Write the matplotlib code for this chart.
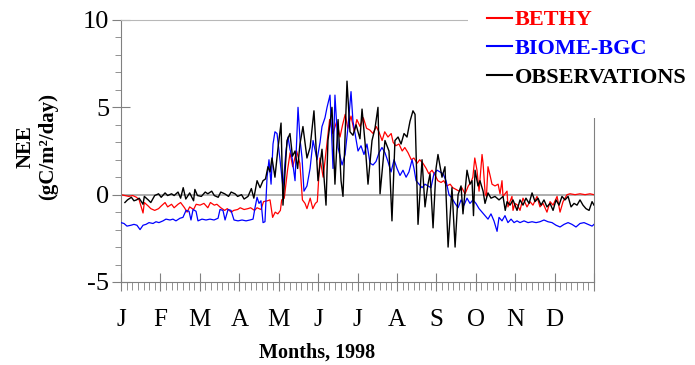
"""
NEE 1998: BETHY and BIOME-BGC model output against tower observations.
Values read by eye from the reference figure (day of year, gC/m2/day).
"""

import numpy as np
import matplotlib.pyplot as plt
from matplotlib.patches import Rectangle

plt.rcParams["font.family"] = ["Liberation Serif", "DejaVu Serif"]
plt.rcParams["axes.unicode_minus"] = False

month_labels = ["J", "F", "M", "A", "M", "J", "J", "A", "S", "O", "N", "D"]

bethy_day = [0, 3, 6, 9, 12, 14, 17, 18, 21, 23, 26, 29, 31, 34, 36, 39, 41, 44, 46, 49,
             51, 53, 56, 58, 61, 64, 67, 69, 72, 74, 77, 80, 82, 85, 87, 90, 92, 95, 98, 100,
             103, 105, 108, 110, 113, 115, 117, 119, 121, 123, 124, 126, 128.5, 130.5, 132.5,
             135.5, 138, 140, 142, 143.5, 146, 148, 150, 151.5, 153.5, 156, 159, 161, 163.5,
             166.5, 169, 171, 173, 175, 177.5, 180, 182, 184.5, 187, 189.5, 192, 194.5, 197,
             199, 201.5, 203.5, 206, 208.5, 210, 212, 214.5, 217, 219, 221.5, 224, 226, 228.5,
             230.5, 233, 235.5, 237.5, 240, 242.5, 244.5, 247, 249, 251.5, 254, 256, 258.5,
             261, 263, 265.5, 268, 270, 271.5, 273, 274.7, 276.3, 278.6, 279.4, 281, 282,
             283.2, 284.8, 286.3, 288.6, 291, 292.5, 294, 294.8, 297.9, 298.6, 301.7, 302.5,
             304, 306, 307.9, 310.2, 313.3, 315.6, 317.9, 321, 323.3, 325.7, 328.7, 331.1,
             333.4, 336.5, 338.8, 341.1, 344.2, 346.5, 350.4, 354.2, 358.1, 361.9, 365]
bethy_nee = [0.0, -0.05, -0.1, -0.05, -0.15, -0.3, -1.05, -0.45, -0.65, -0.8, -0.9, -0.8,
             -0.65, -0.45, -0.7, -0.55, -0.75, -0.55, -0.45, -0.75, -1.0, -0.7, -0.85, -0.55,
             -0.6, -0.5, -0.75, -0.45, -0.6, -0.55, -0.75, -0.9, -0.8, -1.0, -0.9, -0.85,
             -0.75, -0.85, -0.8, -0.75, -0.9, -0.75, -0.85, -0.4, -0.35, -0.3, -1.3, -1.0,
             -1.1, -0.9, -0.3, -0.2, 1.4, 2.4, 1.6, 2.5, 1.8, -0.3, -0.5, -0.8, -0.2, -0.8,
             -0.5, -0.4, 2.1, 1.0, 3.0, 4.3, 3.5, 4.2, 3.3, 4.0, 4.6, 3.8, 4.5, 3.6, 4.3, 3.9,
             4.4, 3.8, 3.7, 3.5, 3.9, 3.6, 3.1, 3.6, 3.3, 3.5, 3.0, 2.8, 2.9, 2.5, 2.7, 2.4,
             2.0, 2.1, 1.8, 2.0, 1.8, 1.5, 1.2, 1.4, 1.1, 0.8, 0.7, 0.8, 0.5, 0.6, 0.4, 0.3,
             0.2, 0.4, 0.05, 0.5, 0.7, 1.0, 2.1, 1.4, 0.2, 2.3, 1.8, 0.05, -0.1, 1.6, 1.1,
             0.6, 0.5, 0.6, 0.05, 0.8, -0.1, 0.2, -0.7, -0.1, -0.9, -0.5, -0.6, -0.9, -0.2,
             -0.7, -0.4, -0.6, -0.1, -0.7, -0.5, -1.0, -0.4, -0.6, -0.1, -1.0, -0.4, 0.0,
             0.05, 0.0, 0.05, 0.0, 0.05, 0.0]

biome_day = [0, 2.3, 4.6, 7.7, 10, 12.3, 14.7, 17, 19.3, 21.6, 24.7, 27, 29.3, 32.4, 34.7,
             37.8, 40.1, 42.4, 45.5, 47.8, 50.2, 52.5, 54, 55.6, 57.9, 59.4, 62.5, 65.6, 68.7,
             71.8, 74.9, 76.4, 78.7, 80.3, 82.6, 84.9, 87.2, 90.3, 93.4, 96.5, 99.5, 101.9,
             103.4, 105, 106.5, 108, 109.6, 111.1, 112.7, 114.2, 115.8, 117.3, 118.8, 120.4,
             122.7, 125, 127.3, 128.9, 130.4, 132, 134.3, 136.6, 138.1, 139.7, 141.2, 143.5,
             145.9, 148.2, 151.3, 153.6, 155.1, 157.4, 159, 161.3, 163.6, 165.1, 167.5, 170.6,
             172.9, 175.2, 177.5, 179, 180.6, 182.9, 185.2, 187.5, 189.8, 192.2, 194.5, 196.8,
             199.1, 201.4, 203.7, 206, 208.4, 210.7, 213, 215.3, 217.6, 220, 222.2, 224.6,
             226.1, 227.7, 230, 232.3, 234.6, 236.9, 239.2, 241.5, 243.9, 246.2, 248.5, 250.8,
             253.1, 255.4, 257.8, 260.1, 262.4, 264.7, 267, 269.3, 271.6, 273.9, 276.3, 278.6,
             280.9, 283.2, 285.5, 287.8, 290.2, 291.7, 294, 296.3, 298.6, 301, 303.3, 305.6,
             307.9, 311, 314.1, 317.2, 320.3, 323.3, 326.4, 329.5, 332.6, 335.7, 338.8, 341.9,
             345, 348, 351.1, 354.2, 357.3, 360.4, 363.5, 365]
biome_nee = [-1.6, -1.65, -1.8, -1.75, -1.7, -1.75, -2.0, -1.75, -1.7, -1.6, -1.65, -1.55,
             -1.6, -1.5, -1.4, -1.45, -1.4, -1.5, -1.35, -1.3, -0.9, -0.95, -1.45, -0.85,
             -0.95, -1.5, -1.4, -1.45, -1.4, -1.45, -1.35, -0.85, -0.9, -1.45, -0.85, -0.9,
             -1.45, -1.5, -1.45, -1.5, -1.45, -1.4, -0.75, -0.15, -0.5, -0.35, -1.6, -1.55,
             1.0, 2.0, 0.6, 2.9, 3.6, 3.5, 2.0, 0.4, 2.5, 3.3, 2.6, 2.1, 0.8, 5.0, 3.2, 2.1,
             0.2, 0.5, 1.5, 3.1, 2.0, 3.0, 3.9, 4.4, 5.0, 5.7, 1.5, 5.7, 2.7, 1.7, 2.3, 3.9,
             5.9, 4.2, 3.5, 2.5, 2.8, 2.3, 2.9, 1.8, 1.7, 1.9, 2.4, 2.7, 2.4, 1.9, 1.3, 2.0,
             1.5, 1.1, 1.4, 1.0, 1.3, 2.0, 1.5, 0.8, 0.6, 0.4, 0.6, 0.5, 0.4, 1.2, 1.4, 1.3,
             1.2, 0.8, 0.0, -0.2, -0.5, -0.75, -0.3, -0.6, -0.2, -0.5, -0.3, -0.5, -0.8, -1.0,
             -1.2, -1.4, -1.1, -1.5, -2.1, -1.3, -1.5, -1.2, -1.6, -1.4, -1.6, -1.5, -1.6,
             -1.5, -1.6, -1.55, -1.6, -1.55, -1.45, -1.55, -1.6, -1.75, -1.85, -1.7, -1.6,
             -1.7, -1.85, -1.65, -1.6, -1.7, -1.8, -1.7]

obs_day = [3, 5, 8, 10, 12, 14, 17, 18, 21, 23, 26, 29, 31, 34, 36, 39, 41, 44, 46, 48, 50,
           53, 56, 57, 59, 62, 65, 67, 70, 72, 75, 77, 80, 83, 85, 88, 90, 93, 95, 98, 100.6,
           102.5, 105, 107.3, 109.6, 111.5, 113.4, 115, 116.5, 118.8, 121.2, 123.5, 125,
           128.1, 130.4, 132.3, 134.3, 136.3, 138.1, 140.4, 143.5, 145.9, 148.9, 152, 155.1,
           158.2, 159.7, 162.8, 165.1, 167.5, 169.8, 171.3, 174.4, 176.7, 179, 181.4, 184.4,
           186, 188.3, 190.6, 193.7, 196, 198.3, 199.9, 203.7, 206.8, 209.1, 211.4, 213.8,
           216.1, 218.4, 220.7, 223, 225.3, 226.9, 229.2, 232.3, 234.6, 236.9, 238.5, 240.8,
           243.1, 244.6, 247.7, 250, 252.4, 255.4, 257.8, 260.1, 262.4, 263.9, 267, 269.3,
           270.9, 272, 273.2, 275.5, 277, 279.4, 280.9, 283.2, 285.5, 288.6, 291.7, 294.8,
           296.5, 297.9, 300.2, 302.5, 305.6, 307.9, 310.2, 312.5, 314.9, 317.2, 319.5, 321.8,
           324.1, 326.4, 328.7, 331.1, 333.4, 335.7, 338, 340.3, 342.6, 345, 347.3, 349.6,
           351.9, 354.2, 356.5, 358.8, 361.2, 363.5, 365]
obs_nee = [-0.45, -0.3, -0.15, -0.35, -0.3, -0.2, -0.55, -0.1, -0.3, -0.45, -0.05, 0.05,
           -0.15, 0.1, -0.05, 0.05, -0.05, 0.15, -0.2, 0.4, -0.25, 0.1, -0.35, 0.3, -0.05,
           -0.1, 0.15, 0.05, 0.2, -0.05, -0.15, 0.15, 0.05, -0.1, 0.15, 0.05, -0.1, 0.0,
           -0.25, -0.1, 0.35, -0.2, 0.8, 0.4, 0.8, 0.9, 1.6, 1.3, 2.1, 1.0, 2.7, 4.1, -0.6,
           3.1, 3.5, 2.2, 2.5, 1.5, 2.9, 3.9, 2.1, 2.7, 4.8, 0.8, 2.6, -0.6, 3.1, 5.0, 0.6,
           4.3, 0.8, -0.1, 6.5, 3.6, 3.4, 4.0, 3.2, 4.9, 3.0, 0.6, 3.1, 3.8, 5.0, 0.05, 3.1,
           2.5, -1.5, 3.1, 3.3, 2.9, 3.5, 3.3, 4.2, 4.8, 4.6, -1.7, 2.0, -0.7, 0.6, 1.2, -1.9,
           1.5, 2.3, 1.0, 1.6, -3.0, 0.4, -3.0, 0.0, 0.5, -1.1, 1.4, 0.6, 0.8, -1.2, 1.4, 0.5,
           0.8, 0.2, -0.5, 0.1, -0.2, -0.1, -0.3, -0.1, -0.9, -0.4, -0.6, -0.3, -0.9, -0.3,
           -0.6, -0.2, -0.5, 0.1, -0.4, -0.2, -0.6, -0.3, -0.7, -0.5, -0.9, -0.3, -0.6, -0.1,
           -0.3, -0.1, -0.7, -0.5, -0.6, -0.3, -0.6, -0.8, -0.9, -0.4, -0.6]


def main():
    fig = plt.figure(figsize=(6.95, 3.65), dpi=100)
    ax = fig.add_axes([121 / 695, 83 / 365, 473 / 695, 262 / 365])

    # zero reference line under the curves
    ax.axhline(0, color="#a8a8a8", lw=1.3, zorder=1)

    l_bethy, = ax.plot(bethy_day, bethy_nee, color="#ff0000", lw=0.9, zorder=2)
    l_biome, = ax.plot(biome_day, biome_nee, color="#0000ff", lw=0.9, zorder=3)
    l_obs, = ax.plot(obs_day, obs_nee, color="black", lw=1.0, zorder=4)

    ax.set_xlim(0, 365)
    ax.set_ylim(-5, 10)

    month_len = 365 / 12
    ax.set_xticks(np.arange(13) * month_len)
    ax.set_xticklabels(month_labels + [""])
    ax.set_xticks(np.arange(12 * 7 + 1) * month_len / 7, minor=True)
    ax.set_yticks([-5, 0, 5, 10])
    ax.set_yticks(np.arange(-5, 11), minor=True)

    ax.tick_params(axis="x", which="major", direction="inout", length=13,
                   color="#808080", labelsize=18, pad=13)
    ax.tick_params(axis="x", which="minor", direction="out", length=6, color="#808080")
    ax.tick_params(axis="y", which="major", direction="inout", length=13,
                   color="#808080", labelsize=19, pad=2)
    ax.tick_params(axis="y", which="minor", direction="out", length=4.5, color="#808080")

    for side in ["left", "bottom", "right"]:
        ax.spines[side].set_color("#808080")
    ax.spines["top"].set_color("#b8b8b8")

    fig.text(37 / 695, 1 - 147 / 365, "NEE\n(gC/m²/day)", fontsize=15,
             fontweight="bold", rotation=90, ha="center", va="center",
             linespacing=1.2, multialignment="center")
    fig.text(317 / 695, 1 - 353 / 365, "Months, 1998", fontsize=14.5,
             fontweight="bold", ha="center", va="center")

    # white block hiding the upper-right corner of the frame, as in the original
    fig.add_artist(Rectangle((468 / 695, 1 - 118 / 365), 1, 1, transform=fig.transFigure,
                             facecolor="white", edgecolor="none", zorder=5))

    leg = fig.legend([l_bethy, l_biome, l_obs], ["BETHY", "BIOME-BGC", "OBSERVATIONS"],
                     loc="upper left", bbox_to_anchor=(478 / 695, 1 - 1 / 365),
                     frameon=False, handlelength=1.13, handletextpad=0.14,
                     labelspacing=0.36, borderaxespad=0, labelcolor="linecolor",
                     prop={"weight": "bold", "size": 16})
    leg.set_zorder(6)
    for h in leg.legend_handles:
        h.set_linewidth(1.5)

    fig.savefig("out.png", dpi=100)


if __name__ == "__main__":
    main()
